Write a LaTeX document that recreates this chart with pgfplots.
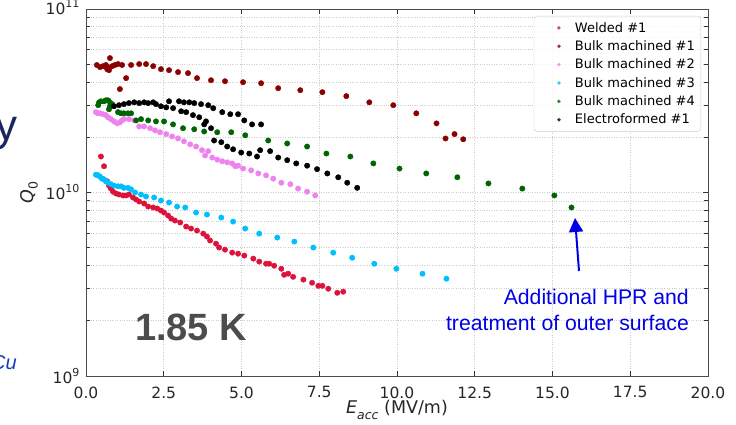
\documentclass[border=0pt]{standalone}
\usepackage{pgfplots}
\pgfplotsset{compat=1.18}
\usetikzlibrary{arrows.meta}
\usepackage{fontspec}
\setmainfont{DejaVu Sans}
\newfontfamily\arial{Liberation Sans}
\definecolor{cwelded}{HTML}{DC143C}
\definecolor{cbulka}{HTML}{8B0000}
\definecolor{cbulkb}{HTML}{EE82EE}
\definecolor{cbulkc}{HTML}{00BFFF}
\definecolor{cbulkd}{HTML}{006400}
\definecolor{navyslide}{RGB}{28,38,94}
\definecolor{cublue}{RGB}{20,60,190}
\definecolor{annblue}{RGB}{0,0,230}
\newcommand\pow[1]{10\raisebox{0.45em}{\fontsize{11}{11}\selectfont #1}}
\begin{document}
\begin{tikzpicture}
\begin{axis}[
  scale only axis, width=622pt, height=367pt,
  xmin=0, xmax=20, ymin=1e9, ymax=1e11, ymode=log,
  xtick={0,2.5,5,7.5,10,12.5,15,17.5,20},
  xticklabels={0.0,2.5,5.0,7.5,10.0,12.5,15.0,17.5,20.0},
  ytick={1e9,1e10,1e11}, yticklabels={\pow{9},\pow{10},\raisebox{3pt}{\pow{11}}},
  grid=both,
  major grid style={dotted, line width=0.6pt, black!20},
  minor grid style={dotted, line width=0.6pt, black!20},
  tick align=inside, major tick length=5pt, minor tick length=4pt,
  tick style={black!80, line width=0.8pt},
  axis line style={black!70, line width=0.9pt},
  ticklabel style={font=\fontsize{15.5}{18}\selectfont, text=black!85},
  xticklabel style={yshift=-7pt},
  yticklabel style={xshift=-3pt},
  xlabel={{\itshape E\raisebox{-0.3em}{\fontsize{12.5}{12.5}\selectfont acc}} (MV/m)},
  ylabel={{\itshape Q}\raisebox{-0.25em}{\fontsize{12.5}{12.5}\selectfont 0}},
  label style={font=\fontsize{17.5}{20}\selectfont, text=black!85},
  xlabel style={at={(axis description cs:0.5,0)}, anchor=center, yshift=-34pt},
  ylabel style={at={(axis description cs:-0.0916,0.5)}, anchor=center},
  legend style={at={(rel axis cs:1,1)}, anchor=north east, xshift=-7pt, yshift=-7pt,
    draw=black!20, rounded corners=3pt, fill=white, fill opacity=0.8, text opacity=1,
    font=\fontsize{13}{15.5}\selectfont, row sep=3pt, inner sep=4pt},
  legend cell align=left,
  legend image code/.code={\path[draw=none,fill=none] (-6pt,-3pt) rectangle (29pt,3pt); \fill[draw=none] (15pt,0pt) circle (1.9pt);},
]
\addplot[only marks, mark=*, color=cwelded, mark size=2.7pt] table {
0.48 1.57e10
0.58 1.39e10
0.68 1.15e10
0.74 1.09e10
0.80 1.05e10
0.87 1.01e10
0.97 9.87e9
1.06 9.75e9
1.19 9.63e9
1.29 9.63e9
1.38 9.75e9
1.51 9.39e9
1.61 9.16e9
1.71 8.93e9
1.87 8.71e9
2.00 8.38e9
2.16 8.28e9
2.29 8.18e9
2.41 7.97e9
2.51 7.78e9
2.64 7.49e9
2.74 7.21e9
2.86 7.03e9
3.03 6.86e9
3.22 6.52e9
3.38 6.36e9
3.57 6.20e9
3.77 5.97e9
3.89 5.75e9
3.99 5.47e9
4.18 5.26e9
4.28 5.01e9
4.47 4.88e9
4.70 4.70e9
4.89 4.64e9
5.09 4.53e9
5.38 4.36e9
5.57 4.20e9
5.79 4.09e9
5.89 4.09e9
6.05 3.99e9
6.28 3.84e9
6.37 3.56e9
6.50 3.61e9
6.66 3.47e9
6.99 3.35e9
7.27 3.22e9
7.47 3.10e9
7.60 3.10e9
7.79 2.99e9
8.08 2.84e9
8.27 2.88e9
};
\addlegendentry{Welded \#1}
\addplot[only marks, mark=*, color=cbulka, mark size=2.7pt] table {
0.35 4.95e10
0.45 4.82e10
0.55 4.88e10
0.64 4.95e10
0.68 4.70e10
0.71 4.82e10
0.74 4.64e10
0.77 5.40e10
0.84 4.88e10
0.93 4.95e10
1.03 5.01e10
1.09 3.66e10
1.16 4.95e10
1.29 4.20e10
1.45 4.95e10
1.71 5.01e10
1.93 5.01e10
2.16 4.88e10
2.41 4.70e10
2.67 4.64e10
2.96 4.53e10
3.28 4.47e10
3.57 4.20e10
4.02 4.09e10
4.47 4.04e10
5.05 3.99e10
5.63 3.94e10
6.18 3.70e10
6.89 3.61e10
7.60 3.52e10
8.37 3.35e10
9.11 3.10e10
9.88 2.99e10
10.62 2.70e10
11.27 2.38e10
11.56 1.97e10
11.85 2.08e10
12.13 1.95e10
};
\addlegendentry{Bulk machined \#1}
\addplot[only marks, mark=*, color=cbulkb, mark size=2.7pt] table {
0.32 2.74e10
0.39 2.70e10
0.45 2.70e10
0.55 2.67e10
0.64 2.64e10
0.71 2.57e10
0.80 2.51e10
0.90 2.44e10
1.00 2.38e10
1.09 2.41e10
1.16 2.47e10
1.22 2.51e10
1.38 2.51e10
1.55 2.47e10
1.71 2.29e10
1.87 2.29e10
2.06 2.24e10
2.22 2.18e10
2.38 2.13e10
2.58 2.08e10
2.77 2.02e10
2.96 1.97e10
3.15 1.90e10
3.35 1.83e10
3.54 1.78e10
3.73 1.70e10
3.83 1.59e10
3.93 1.68e10
4.06 1.55e10
4.22 1.51e10
4.38 1.48e10
4.54 1.46e10
4.70 1.44e10
4.80 1.39e10
4.89 1.40e10
5.05 1.35e10
5.31 1.32e10
5.54 1.27e10
5.79 1.24e10
6.02 1.19e10
6.28 1.13e10
6.57 1.11e10
6.82 1.05e10
7.11 1.01e10
7.37 9.63e9
};
\addlegendentry{Bulk machined \#2}
\addplot[only marks, mark=*, color=cbulkc, mark size=2.7pt] table {
0.32 1.25e10
0.39 1.24e10
0.45 1.22e10
0.51 1.19e10
0.58 1.18e10
0.64 1.15e10
0.71 1.13e10
0.80 1.11e10
0.90 1.09e10
1.03 1.08e10
1.13 1.08e10
1.22 1.06e10
1.35 1.06e10
1.45 1.04e10
1.58 1.00e10
1.77 9.75e9
1.93 9.51e9
2.19 9.39e9
2.41 9.04e9
2.67 8.82e9
2.93 8.38e9
3.19 8.28e9
3.54 7.78e9
3.89 7.58e9
4.35 7.30e9
4.73 6.94e9
5.12 6.36e9
5.57 5.97e9
6.15 5.68e9
6.70 5.40e9
7.31 5.01e9
7.95 4.70e9
8.56 4.41e9
9.27 4.09e9
9.98 3.84e9
10.82 3.61e9
11.59 3.39e9
};
\addlegendentry{Bulk machined \#3}
\addplot[only marks, mark=*, color=cbulkd, mark size=2.7pt] table {
0.39 2.99e10
0.42 3.10e10
0.48 3.14e10
0.58 3.14e10
0.64 3.18e10
0.71 3.18e10
0.77 3.10e10
0.84 3.03e10
0.77 2.95e10
0.74 2.84e10
1.03 2.74e10
1.13 2.70e10
1.22 2.70e10
1.35 2.70e10
1.45 2.70e10
1.61 2.47e10
1.77 2.51e10
2.00 2.47e10
2.25 2.44e10
2.51 2.44e10
2.80 2.35e10
3.12 2.24e10
3.48 2.21e10
3.80 2.15e10
4.22 2.13e10
4.67 2.13e10
5.12 2.05e10
5.86 1.92e10
6.47 1.85e10
7.11 1.78e10
7.73 1.63e10
8.50 1.57e10
9.24 1.44e10
10.08 1.35e10
10.94 1.27e10
11.94 1.21e10
12.94 1.12e10
14.03 1.05e10
15.06 9.63e9
15.61 8.28e9
};
\addlegendentry{Bulk machined \#4}
\addplot[only marks, mark=*, color=black, mark size=2.7pt] table {
0.90 2.95e10
1.06 2.99e10
1.22 3.03e10
1.38 3.07e10
1.55 3.10e10
1.71 3.07e10
1.87 3.10e10
2.00 3.07e10
2.16 3.10e10
2.25 3.03e10
2.41 2.95e10
2.58 2.91e10
2.67 3.14e10
2.80 2.88e10
2.99 3.14e10
3.06 2.77e10
3.15 3.10e10
3.22 2.74e10
3.32 3.10e10
3.44 2.64e10
3.48 3.07e10
3.64 2.57e10
3.70 3.03e10
3.80 2.35e10
3.86 2.44e10
3.93 2.99e10
4.02 2.24e10
4.09 2.88e10
4.12 1.92e10
4.35 1.88e10
4.38 2.74e10
4.54 1.78e10
4.64 2.67e10
4.73 1.72e10
4.89 2.67e10
4.99 1.65e10
5.09 2.47e10
5.25 1.63e10
5.34 2.35e10
5.50 1.57e10
5.60 1.70e10
5.63 2.35e10
5.92 1.68e10
6.18 1.55e10
6.47 1.50e10
6.76 1.44e10
7.11 1.40e10
7.43 1.34e10
7.76 1.27e10
8.11 1.21e10
8.40 1.13e10
8.72 1.06e10
};
\addlegendentry{Electroformed \#1}
\node[font=\arial\bfseries\fontsize{38}{40}\selectfont, text=black!70, anchor=center] at (rel axis cs:0.169,0.131) {1.85 K};
\node[font=\arial\fontsize{21.2}{24}\selectfont, text=annblue, anchor=base east, inner sep=0pt] at (rel axis cs:0.9695,0.196) {Additional HPR and};
\node[font=\arial\fontsize{21.2}{24}\selectfont, text=annblue, anchor=base east, inner sep=0pt] at (rel axis cs:0.9695,0.125) {treatment of outer surface};
\draw[annblue, line width=2pt, -{Triangle[width=14pt,length=14pt]}] (rel axis cs:0.7926,0.2861) -- (rel axis cs:0.7862,0.4305);
\end{axis}
\node[font=\arial\fontsize{44}{48}\selectfont, text=navyslide, anchor=base west, inner sep=0pt] at (-91pt,236pt) {y};
\node[font=\arial\itshape\fontsize{20}{24}\selectfont, text=cublue, anchor=base west, inner sep=0pt] at (-95pt,7pt) {Cu};
\pgfresetboundingbox
\useasboundingbox (-86pt,-48pt) rectangle (650pt,376pt);
\end{tikzpicture}
\end{document}
